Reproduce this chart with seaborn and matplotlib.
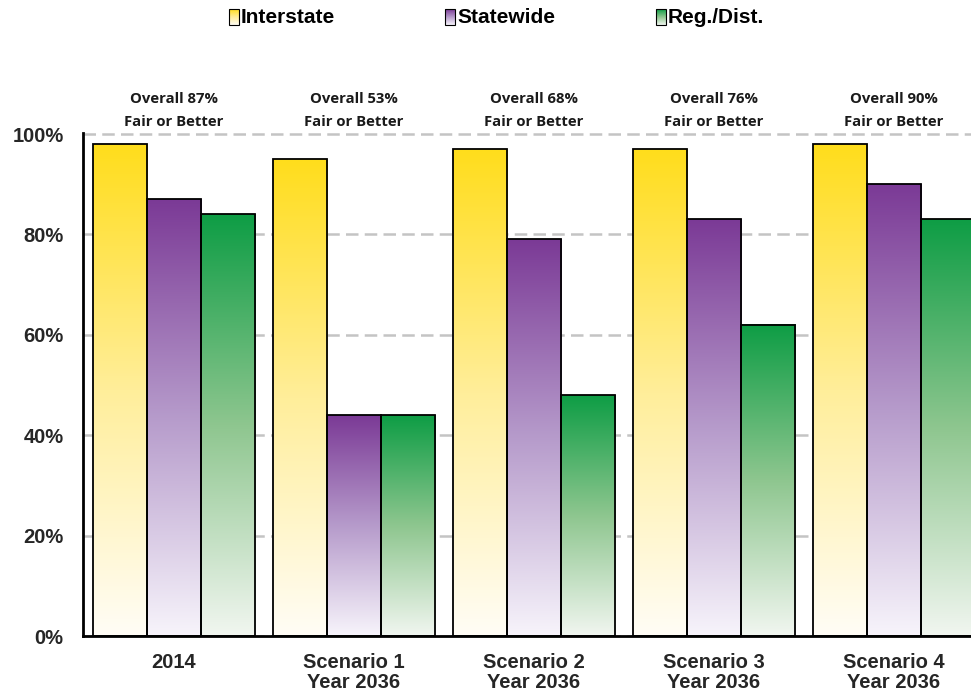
import numpy as np
import pandas as pd
import matplotlib
matplotlib.use("Agg")
import matplotlib.pyplot as plt
import seaborn as sns
from matplotlib.colors import LinearSegmentedColormap
from matplotlib.patches import Rectangle

# ---- data ----
categories = ["2014", "Scenario 1\nYear 2036", "Scenario 2\nYear 2036",
              "Scenario 3\nYear 2036", "Scenario 4\nYear 2036"]
series = ["Interstate", "Statewide", "Reg./Dist."]
interstate = [98, 95, 97, 97, 98]
statewide = [87, 44, 79, 83, 90]
reg_dist = [84, 44, 48, 62, 83]
overall = [87, 53, 68, 76, 90]
yticks = [0, 20, 40, 60, 80, 100]

df = pd.DataFrame({
    "category": categories * 3,
    "series": [s for s in series for _ in categories],
    "value": interstate + statewide + reg_dist,
})

# gradient stops (bottom -> middle -> top) per series
grad_colors = {
    "Interstate": ["#FFFDF6", "#FFEE9A", "#FFDD1C"],
    "Statewide": ["#F7F4FB", "#B69BCB", "#7B3A96"],
    "Reg./Dist.": ["#F1F6F0", "#8EC68F", "#0E9D45"],
}
cmaps = {k: LinearSegmentedColormap.from_list(k, v) for k, v in grad_colors.items()}

sns.set_theme(style="white")
plt.rcParams["font.family"] = ["Liberation Sans", "DejaVu Sans"]

W, H = 971, 698
fig = plt.figure(figsize=(W / 100, H / 100), dpi=100)
ax = fig.add_axes([83 / W, 1 - 636 / H, 1 - 83 / W, (636 - 133) / H])

bar_width = 0.9
sns.barplot(data=df, x="category", y="value", hue="series", order=categories,
            hue_order=series, width=bar_width, legend=False, ax=ax,
            edgecolor="black", linewidth=1.3, errorbar=None)

# replace flat fills with vertical gradients
step = bar_width / len(series)
grad = np.linspace(0, 1, 256).reshape(-1, 1)
for p in list(ax.patches):
    x0, y0, w, h = p.get_x(), p.get_y(), p.get_width(), p.get_height()
    if h <= 0:
        continue
    xc = x0 + w / 2
    off = xc - round(xc)
    idx = int(round(off / step)) + 1
    name = series[idx]
    p.set_facecolor("none")
    p.set_zorder(3)
    ax.imshow(grad, extent=[x0, x0 + w, y0, y0 + h], origin="lower",
              aspect="auto", cmap=cmaps[name], zorder=2, interpolation="bilinear")

ax.set_xlim(-0.503, 4.43)
ax.set_ylim(0, 100.2)
ax.set_yticks(yticks)
ax.set_yticklabels([f"{t}%" for t in yticks], fontsize=14.5, fontweight="bold")
ax.set_xticks(range(len(categories)))
ax.set_xticklabels(categories, fontsize=14.5, fontweight="bold", linespacing=1.1)
ax.tick_params(axis="x", length=0, pad=12)
ax.tick_params(axis="y", length=7, width=1.8, color="#C4C4C4", pad=7)
ax.set_xlabel("")
ax.set_ylabel("")

ax.yaxis.grid(True, linestyle=(0, (5, 2.5)), color="#C4C4C4", linewidth=1.8)
ax.set_axisbelow(True)
for s in ["top", "right"]:
    ax.spines[s].set_visible(False)
for s in ["left", "bottom"]:
    ax.spines[s].set_color("black")
    ax.spines[s].set_linewidth(2)
    ax.spines[s].set_zorder(4)

# per-scenario summary labels
for i, v in enumerate(overall):
    ax.text(i, 107, f"Overall {v}%", ha="center", va="center", fontsize=10.7,
            fontweight="bold", family=["Open Sans", "DejaVu Sans"], color="#1a1a1a",
            clip_on=False)
    ax.text(i, 102.4, "Fair or Better", ha="center", va="center", fontsize=10.7,
            fontweight="bold", family=["Open Sans", "DejaVu Sans"], color="#1a1a1a",
            clip_on=False)

# legend row at the top with gradient swatches
lax = fig.add_axes([0, 0, 1, 1], zorder=5)
lax.patch.set_alpha(0)
legend_x = [229, 445, 656]
for name, x in zip(series, legend_x):
    lax.imshow(grad, extent=[x, x + 10, 25, 9], origin="lower", aspect="auto",
               cmap=cmaps[name], zorder=1)
    lax.add_patch(Rectangle((x, 9), 10, 16, fill=False, edgecolor="black",
                            linewidth=0.8, zorder=2))
    lax.text(x + 12, 17.5, name, ha="left", va="center", fontsize=15,
             fontweight="bold", color="black")
lax.set_xlim(0, W)
lax.set_ylim(H, 0)
lax.axis("off")

fig.savefig("out.png", dpi=100)
